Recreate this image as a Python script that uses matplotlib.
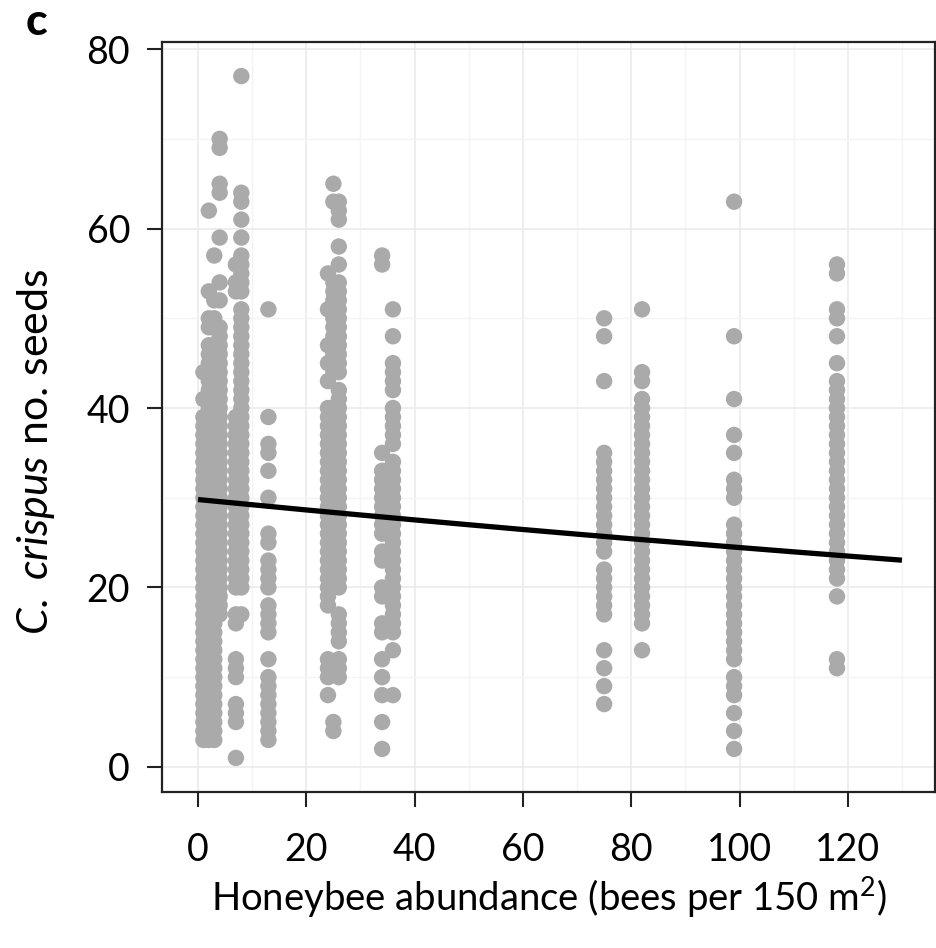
import matplotlib
matplotlib.use("Agg")
import matplotlib.pyplot as plt

plt.rcParams['font.family'] = ['Lato', 'DejaVu Sans']
plt.rcParams['mathtext.fontset'] = 'custom'
plt.rcParams['mathtext.rm'] = 'Lato'
plt.rcParams['mathtext.it'] = 'Lato:italic'

# Honeybee abundance of each site (x) and the seed counts found there (y)
site_x = [1, 2, 3, 4, 7, 8, 13, 24, 25, 26, 34, 36, 75, 82, 99, 118]

seeds_1 = [44, 41, 39, 38, 37, 36, 35, 34, 33, 32, 31, 30, 29, 28, 27, 26, 25, 24, 23, 22,
           21, 20, 19, 18, 17, 16, 15, 14, 13, 12, 11, 10, 9, 8, 7, 6, 5, 4, 3]
seeds_2 = [62, 53, 50, 49, 47, 46, 45, 44, 43, 42, 41, 40, 39, 38, 37, 36, 35, 34, 33, 32,
           31, 30, 29, 28, 27, 26, 25, 24, 23, 22, 21, 20, 19, 18, 17, 16, 15, 14, 13, 12,
           11, 10, 9, 8, 7, 6, 5, 4, 3]
seeds_3 = [57, 52, 50, 47, 46, 45, 44, 43, 42, 41, 40, 39, 38, 37, 36, 35, 34, 33, 32, 31,
           30, 29, 28, 27, 26, 25, 24, 23, 22, 21, 20, 19, 18, 17, 16, 15, 14, 13, 12, 11,
           10, 9, 8, 7, 6, 5, 4, 3]
seeds_4 = [70, 69, 65, 64, 59, 54, 52, 49, 48, 47, 46, 45, 44, 43, 42, 41, 40, 39, 38, 37,
           36, 35, 34, 33, 32, 31, 30, 29, 28, 27, 26, 25, 24, 23, 22, 21, 20, 19, 18, 17]
seeds_7 = [56, 54, 53, 39, 38, 37, 36, 35, 34, 33, 32, 31, 30, 29, 28, 27, 26, 25, 24, 23,
           22, 21, 20, 17, 16, 12, 11, 10, 7, 6, 5, 1]
seeds_8 = [77, 64, 63, 61, 59, 57, 56, 55, 54, 53, 51, 50, 49, 48, 47, 46, 45, 44, 43, 42,
           41, 40, 39, 38, 37, 36, 35, 34, 33, 32, 31, 30, 29, 28, 27, 26, 25, 24, 23, 22,
           21, 20, 17]
seeds_13 = [51, 39, 36, 35, 33, 30, 26, 25, 23, 22, 21, 20, 18, 17, 16, 15, 12, 10, 9, 8,
            7, 6, 5, 4, 3]
seeds_24 = [55, 51, 47, 45, 43, 40, 39, 38, 37, 36, 35, 34, 33, 32, 31, 30, 29, 28, 27, 26,
            25, 24, 23, 22, 21, 20, 19, 18, 12, 11, 10, 8]
seeds_25 = [65, 63, 54, 53, 52, 51, 50, 49, 48, 47, 46, 45, 44, 40, 39, 38, 37, 36, 35, 34,
            33, 32, 31, 30, 29, 28, 27, 26, 25, 24, 23, 22, 21, 5, 4]
seeds_26 = [63, 62, 61, 58, 56, 54, 53, 52, 51, 50, 49, 48, 47, 46, 45, 44, 42, 41, 40, 39,
            38, 37, 36, 35, 34, 33, 32, 31, 30, 29, 28, 27, 26, 25, 24, 23, 22, 21, 20, 17,
            16, 15, 14, 12, 11, 10]
seeds_34 = [57, 56, 35, 33, 32, 31, 30, 29, 28, 27, 26, 24, 23, 20, 19, 16, 15, 12, 10, 8,
            5, 2]
seeds_36 = [51, 48, 45, 44, 43, 42, 40, 39, 38, 37, 36, 34, 33, 32, 31, 30, 29, 28, 27, 26,
            25, 24, 23, 22, 21, 20, 19, 18, 17, 16, 15, 13, 8]
seeds_75 = [50, 48, 43, 35, 34, 33, 32, 31, 30, 29, 28, 27, 26, 25, 24, 22, 21, 20, 19, 18,
            17, 13, 11, 9, 7]
seeds_82 = [51, 44, 43, 41, 40, 39, 38, 37, 36, 35, 34, 33, 32, 31, 30, 29, 28, 27, 26, 25,
            24, 23, 22, 21, 20, 19, 18, 17, 16, 13]
seeds_99 = [63, 48, 41, 37, 35, 32, 31, 30, 27, 26, 25, 24, 23, 22, 21, 20, 19, 18, 17, 16,
            15, 14, 13, 12, 10, 9, 8, 6, 4, 2]
seeds_118 = [56, 55, 51, 50, 48, 45, 43, 42, 41, 40, 39, 38, 37, 36, 35, 34, 33, 32, 31, 30,
             29, 28, 27, 26, 25, 24, 23, 22, 21, 19, 12, 11]

site_seeds = [seeds_1, seeds_2, seeds_3, seeds_4, seeds_7, seeds_8, seeds_13, seeds_24,
              seeds_25, seeds_26, seeds_34, seeds_36, seeds_75, seeds_82, seeds_99, seeds_118]

# fitted curve
fit_x = [0, 10, 20, 30, 40, 50, 60, 70, 80, 90, 100, 110, 120, 130]
fit_y = [29.8, 29.22, 28.64, 28.08, 27.53, 26.99, 26.46, 25.94, 25.43, 24.94, 24.45,
         23.97, 23.5, 23.04]

fig = plt.figure(figsize=(9.37, 9.48), dpi=100)
ax = fig.add_axes([162 / 937, 1 - 792 / 948, (935 - 162) / 937, (792 - 42) / 948])

for x, ys in zip(site_x, site_seeds):
    ax.scatter([x] * len(ys), ys, s=140, color='#aaaaaa', edgecolors='none', zorder=2)

ax.plot(fit_x, fit_y, color='black', lw=3.8, solid_capstyle='butt', zorder=3)

ax.set_xlim(-6.65, 136.1)
ax.set_ylim(-2.8, 80.8)
ax.set_xticks([0, 20, 40, 60, 80, 100, 120])
ax.set_yticks([0, 20, 40, 60, 80])
ax.set_xticks([10, 30, 50, 70, 90, 110, 130], minor=True)
ax.set_yticks([10, 30, 50, 70], minor=True)
ax.grid(True, which='major', color='#ebebeb', lw=1.2, zorder=0)
ax.grid(True, which='minor', color='#f4f4f4', lw=1.0, zorder=0)
ax.set_axisbelow(True)

for sp in ax.spines.values():
    sp.set_linewidth(1.6)
    sp.set_color('#222222')

ax.tick_params(which='major', length=11, width=1.5, labelsize=27, color='#222222')
ax.tick_params(axis='x', which='major', pad=18)
ax.tick_params(axis='y', which='major', pad=12)
ax.tick_params(which='minor', length=0)

fig.text(549 / 937, 1 - 897 / 948, r'Honeybee abundance (bees per 150 m$^2$)',
         fontsize=27.5, ha='center', va='center')
fig.text(36 / 937, 1 - 452 / 948, r'$\it{C.\ crispus}$ no. seeds',
         fontsize=31, ha='center', va='center', rotation=90)
fig.text(36 / 937, 1 - 22 / 948, 'c', fontsize=32, fontweight='black',
         ha='center', va='center')

fig.savefig('out.png', dpi=100)
